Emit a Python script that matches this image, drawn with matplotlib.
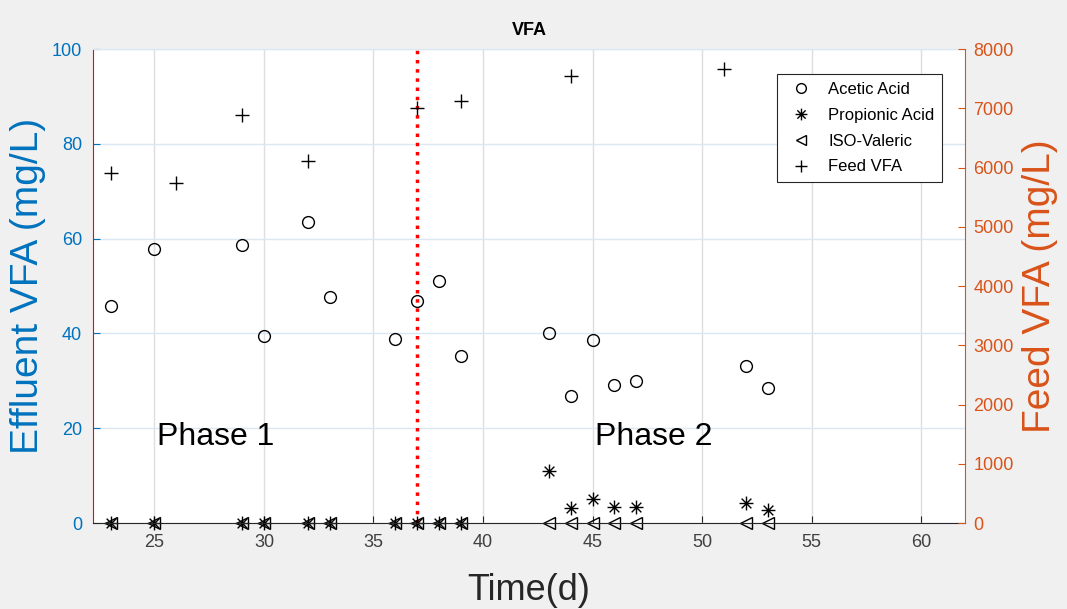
import matplotlib.pyplot as plt
from matplotlib.path import Path
from matplotlib.lines import Line2D

plt.rcParams['font.family'] = ['Liberation Sans', 'DejaVu Sans']

# effluent data (left axis, mg/L)
acetic_days = [23, 25, 29, 30, 32, 33, 36, 37, 38, 39, 43, 44, 45, 46, 47, 52, 53]
acetic = [45.8, 57.8, 58.6, 39.5, 63.5, 47.7, 38.8, 46.8, 51.1, 35.2,
          40.1, 26.8, 38.6, 29.1, 30.0, 33.1, 28.5]

propionic_days = [23, 25, 29, 30, 32, 33, 36, 37, 38, 39, 43, 44, 45, 46, 47, 52, 53]
propionic = [0, 0, 0, 0, 0, 0, 0, 0, 0, 0, 11.0, 3.2, 5.1, 3.4, 3.4, 4.2, 2.7]

iso_days = [23, 25, 29, 30, 32, 33, 36, 37, 38, 39, 43, 44, 45, 46, 47, 52, 53]
iso_valeric = [0, 0, 0, 0, 0, 0, 0, 0, 0, 0, 0, 0, 0, 0, 0, 0, 0]

# feed data (right axis, mg/L)
feed_days = [23, 26, 29, 32, 37, 39, 44, 51]
feed_vfa = [5900, 5740, 6890, 6110, 7000, 7120, 7540, 7660]

phase_split = 37
x_ticks = [25, 30, 35, 40, 45, 50, 55, 60]

blue = '#0072BD'
orange = '#D95319'

# MATLAB-like asterisk marker
star = Path([(-1, 0), (1, 0), (0, -1), (0, 1), (-0.7, -0.7), (0.7, 0.7), (-0.7, 0.7), (0.7, -0.7)],
            [Path.MOVETO, Path.LINETO] * 4)

fig = plt.figure(figsize=(10.67, 6.09), dpi=100, facecolor='#f0f0f0')
ax = fig.add_axes([0.0872, 0.1412, 0.8172, 0.7783])
ax2 = ax.twinx()

ax.plot(acetic_days, acetic, linestyle='none', marker='o', ms=8.5, mfc='none', mec='black', mew=1.0,
        clip_on=False)
ax.plot(propionic_days, propionic, linestyle='none', marker=star, ms=10, mfc='none', mec='black', mew=1.0,
        clip_on=False)
ax.plot(iso_days, iso_valeric, linestyle='none', marker='<', ms=8, mfc='none', mec='black', mew=1.0,
        clip_on=False)
ax2.plot(feed_days, feed_vfa, linestyle='none', marker='+', ms=10, mec='black', mew=1.0, clip_on=False)

ax.axvline(phase_split, color='red', linestyle=':', lw=2.5, zorder=1)

ax.set_xlim(22.2, 62)
ax.set_ylim(0, 100)
ax2.set_ylim(0, 8000)
ax.set_xticks(x_ticks)
ax.set_yticks([0, 20, 40, 60, 80, 100])
ax2.set_yticks(range(0, 8001, 1000))

ax.grid(True, axis='x', color='#dedede', lw=1)
ax.grid(True, axis='y', color='#dbe7f3', lw=1)
ax.set_axisbelow(True)

ax.tick_params(axis='x', direction='in', length=5, colors='#262626', labelcolor='#404040', labelsize=13, pad=8)
ax.tick_params(axis='y', direction='in', length=5, colors=blue, labelsize=13, pad=8)
ax2.tick_params(axis='y', direction='in', length=5, colors=orange, labelsize=13, pad=6)

ax.spines['left'].set_color('red')
ax.spines['bottom'].set_color('#262626')
ax.spines['top'].set_color('#dbe7f3')
ax.spines['right'].set_visible(False)
ax2.spines['right'].set_color(orange)
ax2.spines['left'].set_visible(False)
ax2.spines['top'].set_visible(False)
ax2.spines['bottom'].set_visible(False)

ax.set_ylabel('Effluent VFA (mg/L)', color=blue, fontsize=28, labelpad=4)
ax2.set_ylabel('Feed VFA (mg/L)', color=orange, fontsize=28, labelpad=6)
ax.set_xlabel('Time(d)', color='#262626', fontsize=26, labelpad=16)
ax.set_title('VFA', fontweight='bold', fontsize=13, pad=10)

ax.text(25.1, 16.5, 'Phase 1', fontsize=23, ha='left', va='baseline')
ax.text(45.1, 16.5, 'Phase 2', fontsize=23, ha='left', va='baseline')

handles = [
    Line2D([], [], linestyle='none', marker='o', ms=7, mfc='none', mec='black'),
    Line2D([], [], linestyle='none', marker=star, ms=8.5, mfc='none', mec='black'),
    Line2D([], [], linestyle='none', marker='<', ms=7, mfc='none', mec='black'),
    Line2D([], [], linestyle='none', marker='+', ms=9, mec='black'),
]
labels = ['Acetic Acid', 'Propionic Acid', 'ISO-Valeric', 'Feed VFA']
leg = ax2.legend(handles, labels, loc='upper right', bbox_to_anchor=(0.983, 0.964), fontsize=12,
                 frameon=True, fancybox=False, edgecolor='#262626', framealpha=1,
                 borderpad=0.45, labelspacing=0.65, handletextpad=0.6, handlelength=2.0)
leg.get_frame().set_linewidth(0.8)

fig.savefig('out.png', dpi=100, facecolor=fig.get_facecolor())
